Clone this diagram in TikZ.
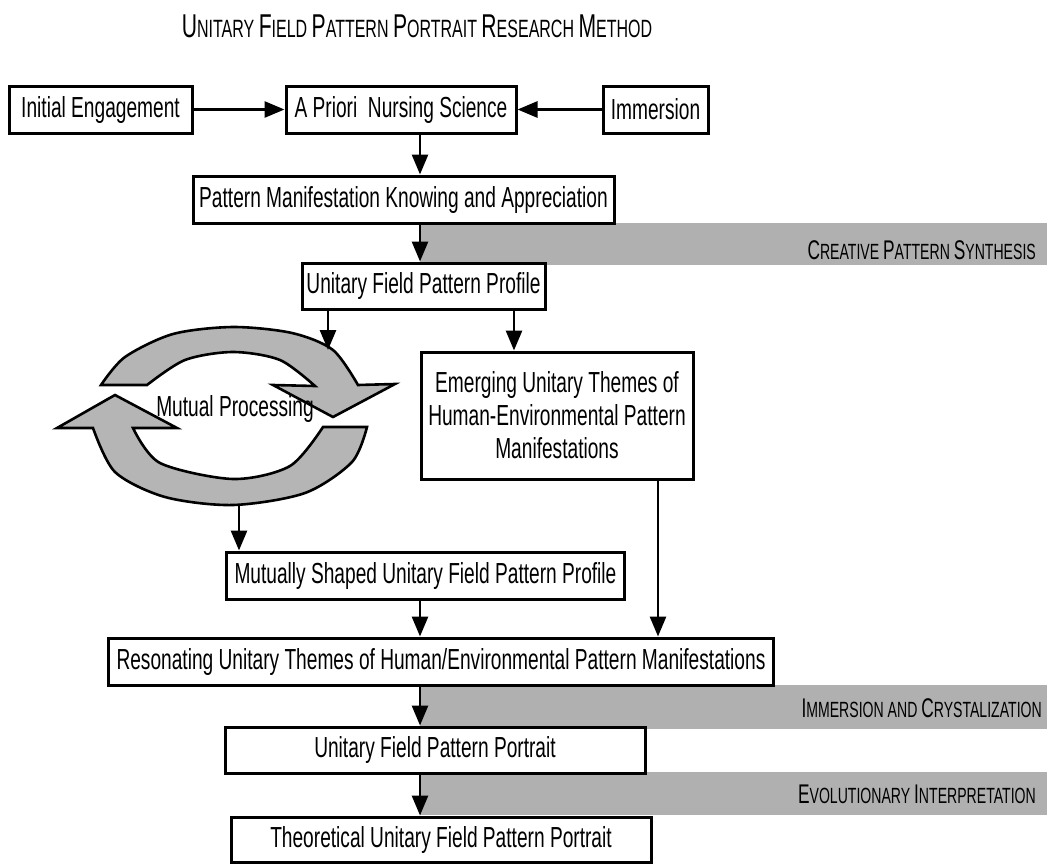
\documentclass[tikz,border=0pt]{standalone}
\usepackage{fontspec}
\setmainfont{Liberation Sans}[FakeStretch=0.66]
\newfontfamily\capsfont{Liberation Sans}[FakeStretch=0.64]
\usetikzlibrary{arrows.meta}
\newcommand\BC[1]{{\fontsize{33}{33}\selectfont #1}}
\newcommand\BD[1]{{\fontsize{27}{27}\selectfont #1}}
\begin{document}
\begin{tikzpicture}[x=1pt,y=-1pt,
  box/.style={draw, line width=3pt, inner sep=0pt, align=center,
    font=\fontsize{29}{33}\selectfont},
  arr/.style={line width=2.8pt, -{Triangle[length=20pt,width=16pt]}},
  band/.style={fill=black!31, draw=none},
  bandlabel/.style={anchor=east, inner sep=0pt, font=\capsfont\fontsize{22}{22}\selectfont},
  cyc/.style={fill=black!29, draw=black, line width=2.6pt, line join=miter},
  lbl/.style={inner sep=0pt, font=\fontsize{29}{31}\selectfont}]
\useasboundingbox (0,0) rectangle (1047,863);

% grey bands
\fill[band] (420,223) rectangle (1047,265);
\fill[band] (420,685) rectangle (1047,729);
\fill[band] (420,772) rectangle (1047,815);

% title
\node[inner sep=0pt, font=\capsfont\fontsize{25}{25}\selectfont] (title) at (417,26)
  {\BC{U}NITARY \BC{F}IELD \BC{P}ATTERN \BC{P}ORTRAIT \BC{R}ESEARCH \BC{M}ETHOD};

% band labels
\node[bandlabel] (l1) at (1036,250) {\BD{C}REATIVE \BD{P}ATTERN \BD{S}YNTHESIS};
\node[bandlabel] (l2) at (1042,708) {\BD{I}MMERSION AND \BD{C}RYSTALIZATION};
\node[bandlabel] (l3) at (1036,794) {\BD{E}VOLUTIONARY \BD{I}NTERPRETATION};

% boxes
\node[box, minimum width=183pt, minimum height=47pt] (init) at (100.5,109.5) {Initial Engagement};
\node[box, minimum width=230pt, minimum height=47pt] (apriori) at (401,109.5) {A Priori\ \ Nursing Science};
\node[box, minimum width=105pt, minimum height=47pt] (immer) at (655.5,109.5) {Immersion};
\node[box, minimum width=421pt, minimum height=47pt] (pmka) at (403.5,199.5) {Pattern Manifestation Knowing and Appreciation};
\node[box, minimum width=243pt, minimum height=46pt] (ufpp) at (423.5,286) {Unitary Field Pattern Profile};
\node[box, minimum width=272pt, minimum height=127pt] (emerg) at (557,415.5)
  {Emerging Unitary Themes of\\Human-Environmental Pattern\\Manifestations};
\node[box, minimum height=47pt, anchor=west, inner xsep=8pt] (mutual) at (225,575.5) {Mutually Shaped Unitary Field Pattern Profile};
\node[box, minimum height=47pt, anchor=west, inner xsep=8pt] (reson) at (107,661.5) {Resonating Unitary Themes of Human/Environmental Pattern Manifestations};
\node[box, minimum width=420pt, minimum height=46pt] (ufport) at (435,750) {Unitary Field Pattern Portrait};
\node[box, minimum width=420pt, minimum height=45pt] (theo) at (441,839.5) {Theoretical Unitary Field Pattern Portrait};

% cycle arrows
\filldraw[cyc] plot[smooth] coordinates {(101,385) (125,357) (173,334) (233,327) (292,333) (333,350) (358,385)}
  -- (395,384) -- (333,417) -- (273,385)
  -- plot[smooth] coordinates {(315,386) (280,360) (233,352) (185,360) (147,385)} -- cycle;
\filldraw[cyc] plot[smooth] coordinates {(367,427) (352,462) (305,493) (233,505) (165,497) (115,472) (93,428)}
  -- (57,428) -- (115,395) -- (177,428)
  -- plot[smooth] coordinates {(133,428) (160,463) (233,479) (290,466) (323,427)} -- cycle;
\node[lbl] (mp) at (235,409) {Mutual Processing};
\coordinate (mpin) at (328,350);
\coordinate (mpout) at (239,505);

% spine coordinates
\coordinate (sp) at (420,0);
\coordinate (xa) at (328,0);
\coordinate (xb) at (514,0);
\coordinate (xc) at (658,0);

% connectors
\draw[arr] (init) -- (apriori);
\draw[arr] (immer) -- (apriori);
\draw[arr] (apriori.south -| sp) -- (pmka.north -| sp);
\draw[arr] (pmka.south -| sp) -- (ufpp.north -| sp);
\draw[arr] (ufpp.south -| xa) -- (mpin);
\draw[arr] (ufpp.south -| xb) -- (emerg.north -| xb);
\draw[arr] (mpout) -- (mutual.north -| mpout);
\draw[arr] (emerg.south -| xc) -- (reson.north -| xc);
\draw[arr] (mutual.south -| sp) -- (reson.north -| sp);
\draw[arr] (reson.south -| sp) -- (ufport.north -| sp);
\draw[arr] (ufport.south -| sp) -- (theo.north -| sp);
\end{tikzpicture}
\end{document}
